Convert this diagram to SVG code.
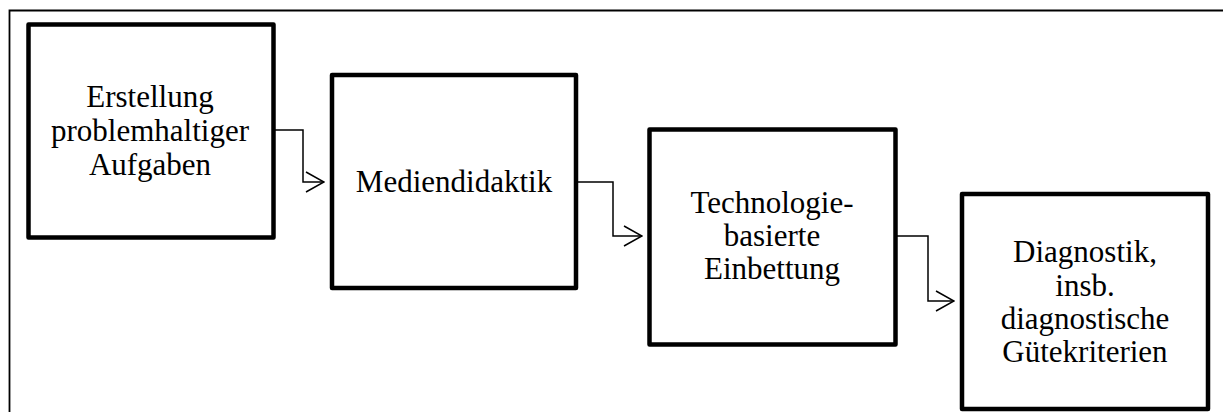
<svg xmlns="http://www.w3.org/2000/svg" width="1223" height="412" viewBox="0 0 1223 412">
  <style>
    .box { fill: #ffffff; stroke: #000000; stroke-width: 4.5; stroke-linejoin: round; }
    .label { font-family: "Liberation Serif", "Times New Roman", serif; font-size: 31px; fill: #000000; text-anchor: middle; }
    .wire { fill: none; stroke: #000000; stroke-width: 1.5; }
    .frame { fill: none; stroke: #000000; stroke-width: 1.8; }
  </style>
  <defs>
    <marker id="open-arrow" viewBox="0 0 20 22" refX="19" refY="11" markerWidth="20" markerHeight="22" markerUnits="userSpaceOnUse" orient="auto">
      <path d="M1,1 L19,11 L1,21" fill="none" stroke="#000000" stroke-width="1.5"/>
    </marker>
  </defs>

  <rect width="1223" height="412" fill="#ffffff"/>

  <!-- outer frame -->
  <path class="frame" d="M9.5,412 V10.5 H1223"/>

  <g id="connectors">
    <path class="wire" marker-end="url(#open-arrow)" d="M275,130 H303 V182 H324"/>
    <path class="wire" marker-end="url(#open-arrow)" d="M578,182 H613 V236 H642"/>
    <path class="wire" marker-end="url(#open-arrow)" d="M897,236 H928 V301 H954"/>
  </g>

  <g id="node-erstellung">
    <rect class="box" x="28.5" y="24.5" width="245" height="213"/>
    <text class="label" x="150" y="107">Erstellung</text>
    <text class="label" x="150" y="141">problemhaltiger</text>
    <text class="label" x="150" y="175">Aufgaben</text>
  </g>

  <g id="node-mediendidaktik">
    <rect class="box" x="332" y="75" width="244" height="213"/>
    <text class="label" x="454" y="192">Mediendidaktik</text>
  </g>

  <g id="node-einbettung">
    <rect class="box" x="649.5" y="129.5" width="246" height="215"/>
    <text class="label" x="772" y="213">Technologie-</text>
    <text class="label" x="772" y="246">basierte</text>
    <text class="label" x="772" y="279">Einbettung</text>
  </g>

  <g id="node-diagnostik">
    <rect class="box" x="962" y="194" width="246" height="215"/>
    <text class="label" x="1085" y="262">Diagnostik,</text>
    <text class="label" x="1085" y="296">insb.</text>
    <text class="label" x="1085" y="329">diagnostische</text>
    <text class="label" x="1085" y="362">Gütekriterien</text>
  </g>
</svg>
